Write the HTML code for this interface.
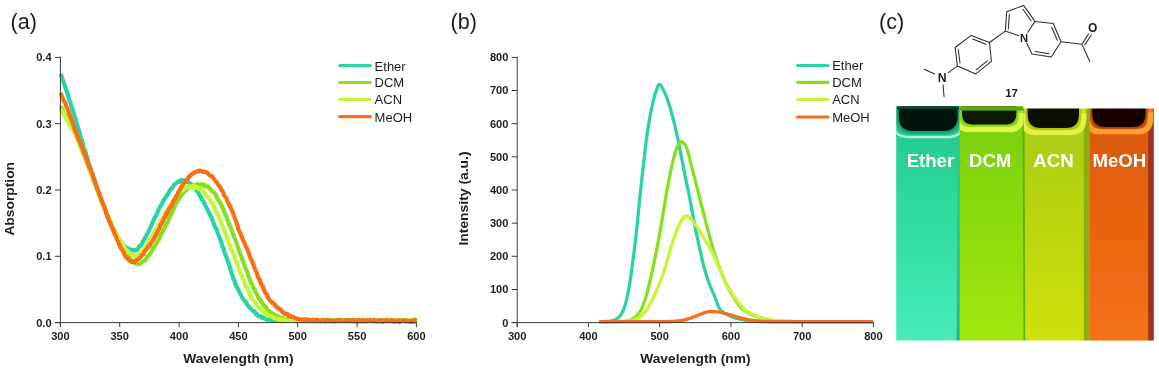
<!DOCTYPE html>
<html lang="en"><head><meta charset="utf-8"><title>Figure</title>
<style>html,body{margin:0;padding:0;background:#fff;overflow:hidden}svg{display:block}</style>
</head><body>
<svg width="1159" height="371" viewBox="0 0 1159 371">
<defs>
<linearGradient id="gE" x1="0" y1="0" x2="0" y2="1"><stop offset="0" stop-color="#22c685"/><stop offset="0.45" stop-color="#2fdb9d"/><stop offset="1" stop-color="#48ecbc"/></linearGradient>
<linearGradient id="gD" x1="0" y1="0" x2="0" y2="1"><stop offset="0" stop-color="#79cf12"/><stop offset="0.5" stop-color="#8cdb0e"/><stop offset="1" stop-color="#a2e80a"/></linearGradient>
<linearGradient id="gA" x1="0" y1="0" x2="0" y2="1"><stop offset="0" stop-color="#a6cb14"/><stop offset="0.5" stop-color="#bad50f"/><stop offset="1" stop-color="#d0e20a"/></linearGradient>
<linearGradient id="gM" x1="0" y1="0" x2="0" y2="1"><stop offset="0" stop-color="#d8560c"/><stop offset="0.5" stop-color="#e9640f"/><stop offset="1" stop-color="#f47216"/></linearGradient>
<linearGradient id="gW" gradientUnits="userSpaceOnUse" x1="0" y1="140" x2="0" y2="345"><stop offset="0" stop-color="#1fae86" stop-opacity="0.15"/><stop offset="0.6" stop-color="#1fae86" stop-opacity="0.6"/><stop offset="1" stop-color="#1fae86" stop-opacity="0.9"/></linearGradient>
<filter id="b0" x="-2%" y="-2%" width="104%" height="104%"><feGaussianBlur stdDeviation="0.35"/></filter>
<filter id="b1" x="-10%" y="-10%" width="120%" height="120%"><feGaussianBlur stdDeviation="1.1"/></filter>
<filter id="b3" x="-10%" y="-10%" width="120%" height="120%"><feGaussianBlur stdDeviation="0.75"/></filter>
<filter id="b2" x="-10%" y="-10%" width="120%" height="120%"><feGaussianBlur stdDeviation="0.6"/></filter>
<clipPath id="photo"><rect x="896.2" y="106.6" width="257.6" height="233.8"/></clipPath>
</defs>
<rect width="1159" height="371" fill="#ffffff"/>
<g filter="url(#b0)">
<path d="M60.4,73.8 L61.4,75.7 L62.4,78.8 L63.4,81.9 L64.4,84.4 L65.4,87.7 L66.4,90.7 L67.4,92.9 L68.4,97.2 L69.4,100.0 L70.4,102.6 L71.4,105.9 L72.4,109.3 L73.4,112.2 L74.4,115.5 L75.4,118.3 L76.4,122.6 L77.4,125.8 L78.4,129.2 L79.4,131.8 L80.4,136.6 L81.4,139.2 L82.4,142.3 L83.4,146.8 L84.4,149.2 L85.4,151.8 L86.4,155.6 L87.4,157.9 L88.4,162.6 L89.4,165.0 L90.4,167.9 L91.4,171.7 L92.4,173.5 L93.4,177.4 L94.4,179.1 L95.4,182.6 L96.4,185.2 L97.4,189.2 L98.4,192.1 L99.4,194.0 L100.4,197.3 L101.4,199.7 L102.4,202.9 L103.4,205.1 L104.4,207.4 L105.4,210.1 L106.4,213.7 L107.4,217.1 L108.4,218.7 L109.4,220.7 L110.4,224.1 L111.4,225.7 L112.4,227.9 L113.4,230.1 L114.4,232.0 L115.4,233.9 L116.4,235.3 L117.4,237.8 L118.4,239.0 L119.4,241.1 L120.4,241.8 L121.4,242.4 L122.4,244.5 L123.4,246.4 L124.4,246.5 L125.4,247.0 L126.4,247.5 L127.4,248.1 L128.4,248.9 L129.4,248.9 L130.4,250.4 L131.4,249.7 L132.4,249.9 L133.4,250.6 L134.4,250.7 L135.4,249.9 L136.4,250.0 L137.4,249.6 L138.4,248.1 L139.4,246.1 L140.4,245.9 L141.4,244.7 L142.4,243.0 L143.4,240.7 L144.4,239.2 L145.4,237.1 L146.4,235.2 L147.4,233.9 L148.4,231.9 L149.4,229.5 L150.4,227.4 L151.4,225.4 L152.4,222.9 L153.4,220.7 L154.4,218.2 L155.4,216.3 L156.4,215.2 L157.4,212.6 L158.4,210.1 L159.4,208.1 L160.4,206.0 L161.4,204.8 L162.4,203.0 L163.4,200.4 L164.4,199.5 L165.4,197.4 L166.4,196.6 L167.4,194.4 L168.4,193.5 L169.4,191.0 L170.4,189.7 L171.4,188.6 L172.4,187.7 L173.4,186.2 L174.4,184.2 L175.4,183.9 L176.4,182.9 L177.4,182.1 L178.4,181.3 L179.4,181.9 L180.4,180.4 L181.4,179.9 L182.4,180.5 L183.4,180.4 L184.4,180.5 L185.4,181.2 L186.4,181.5 L187.4,181.9 L188.4,182.6 L189.4,183.0 L190.4,183.4 L191.4,184.5 L192.4,185.5 L193.4,186.9 L194.4,187.5 L195.4,188.4 L196.4,190.6 L197.4,191.4 L198.4,192.6 L199.4,195.2 L200.4,196.3 L201.4,198.6 L202.4,199.9 L203.4,201.4 L204.4,203.3 L205.4,205.6 L206.4,207.7 L207.4,209.4 L208.4,211.7 L209.4,213.2 L210.4,215.9 L211.4,217.2 L212.4,220.0 L213.4,222.6 L214.4,225.1 L215.4,227.7 L216.4,228.6 L217.4,232.1 L218.4,234.9 L219.4,237.5 L220.4,239.4 L221.4,242.9 L222.4,246.4 L223.4,247.8 L224.4,251.6 L225.4,254.8 L226.4,256.8 L227.4,260.4 L228.4,262.7 L229.4,265.9 L230.4,269.1 L231.4,272.6 L232.4,275.5 L233.4,278.8 L234.4,280.6 L235.4,283.5 L236.4,286.2 L237.4,288.2 L238.4,289.5 L239.4,292.4 L240.4,293.8 L241.4,296.0 L242.4,297.6 L243.4,299.6 L244.4,300.6 L245.4,301.2 L246.4,302.8 L247.4,305.0 L248.4,305.8 L249.4,307.6 L250.4,308.4 L251.4,309.0 L252.4,310.8 L253.4,310.9 L254.4,311.3 L255.4,314.1 L256.4,313.1 L257.4,315.1 L258.4,315.9 L259.4,316.2 L260.4,316.0 L261.4,317.7 L262.4,317.1 L263.4,317.6 L264.4,318.5 L265.4,319.3 L266.4,319.4 L267.4,319.9 L268.4,319.4 L269.4,319.7 L270.4,319.3 L271.4,319.8 L272.4,320.3 L273.4,320.0 L274.4,320.4 L275.4,320.0 L276.4,320.0 L277.4,320.3 L278.4,320.3 L279.4,320.7 L280.4,320.5 L281.4,321.2 L282.4,320.3 L283.4,320.4 L284.4,320.0 L285.4,320.5 L286.4,320.8 L287.4,320.2 L288.4,320.5 L289.4,320.9 L290.4,320.5 L291.4,320.3 L292.4,321.0 L293.4,320.6 L294.4,320.8 L295.4,321.1 L296.4,321.1 L297.4,320.4 L298.4,320.4 L299.4,320.7 L300.4,320.5 L301.4,319.7 L302.4,321.2 L303.4,320.6 L304.4,320.9 L305.4,320.1 L306.4,321.2 L307.4,320.4 L308.4,320.6 L309.4,320.0 L310.4,320.6 L311.4,320.5 L312.4,320.6 L313.4,320.8 L314.4,320.7 L315.4,321.1 L316.4,320.4 L317.4,320.2 L318.4,320.7 L319.4,320.9 L320.4,321.2 L321.4,321.0 L322.4,319.9 L323.4,320.8 L324.4,321.3 L325.4,320.7 L326.4,320.4 L327.4,320.8 L328.4,320.5 L329.4,321.0 L330.4,320.7 L331.4,321.3 L332.4,320.9 L333.4,320.4 L334.4,321.0 L335.4,321.1 L336.4,320.5 L337.4,320.5 L338.4,319.7 L339.4,321.1 L340.4,320.5 L341.4,319.8 L342.4,319.9 L343.4,320.6 L344.4,321.1 L345.4,320.7 L346.4,320.9 L347.4,320.2 L348.4,320.1 L349.4,321.1 L350.4,321.0 L351.4,320.7 L352.4,321.3 L353.4,320.3 L354.4,320.6 L355.4,321.2 L356.4,321.6 L357.4,320.8 L358.4,321.5 L359.4,320.5 L360.4,320.9 L361.4,320.7 L362.4,320.0 L363.4,320.9 L364.4,321.2 L365.4,320.7 L366.4,320.7 L367.4,321.4 L368.4,320.2 L369.4,320.1 L370.4,320.5 L371.4,320.2 L372.4,321.4 L373.4,320.9 L374.4,320.4 L375.4,320.5 L376.4,322.1 L377.4,320.5 L378.4,320.4 L379.4,320.9 L380.4,321.1 L381.4,320.9 L382.4,320.4 L383.4,320.3 L384.4,321.1 L385.4,320.8 L386.4,320.0 L387.4,321.3 L388.4,321.1 L389.4,320.7 L390.4,320.7 L391.4,320.9 L392.4,320.5 L393.4,320.2 L394.4,320.9 L395.4,320.1 L396.4,321.0 L397.4,320.1 L398.4,320.8 L399.4,320.7 L400.4,321.6 L401.4,320.3 L402.4,320.2 L403.4,320.5 L404.4,320.3 L405.4,320.5 L406.4,321.0 L407.4,321.1 L408.4,321.5 L409.4,320.5 L410.4,322.0 L411.4,321.7 L412.4,320.7 L413.4,319.8 L414.4,320.8 L415.4,320.8 L416.4,319.8" fill="none" stroke="#2bd3a5" stroke-width="4.20" stroke-linejoin="round" stroke-linecap="butt"/>
<path d="M60.4,106.0 L61.4,107.7 L62.4,109.2 L63.4,111.7 L64.4,113.7 L65.4,114.8 L66.4,117.0 L67.4,118.4 L68.4,120.2 L69.4,122.4 L70.4,124.4 L71.4,125.7 L72.4,126.8 L73.4,130.0 L74.4,131.0 L75.4,133.9 L76.4,136.9 L77.4,138.5 L78.4,140.4 L79.4,142.8 L80.4,146.5 L81.4,148.6 L82.4,151.5 L83.4,154.3 L84.4,156.4 L85.4,158.9 L86.4,161.2 L87.4,162.8 L88.4,166.1 L89.4,169.3 L90.4,171.9 L91.4,174.8 L92.4,177.2 L93.4,179.9 L94.4,182.8 L95.4,184.6 L96.4,187.5 L97.4,189.6 L98.4,193.4 L99.4,195.6 L100.4,198.5 L101.4,201.6 L102.4,204.0 L103.4,206.0 L104.4,208.9 L105.4,210.3 L106.4,213.6 L107.4,215.9 L108.4,217.5 L109.4,221.2 L110.4,222.6 L111.4,225.5 L112.4,227.3 L113.4,230.1 L114.4,232.3 L115.4,233.4 L116.4,235.2 L117.4,237.8 L118.4,240.2 L119.4,241.6 L120.4,243.3 L121.4,245.7 L122.4,246.0 L123.4,248.6 L124.4,249.9 L125.4,252.3 L126.4,253.4 L127.4,254.8 L128.4,256.7 L129.4,257.6 L130.4,259.5 L131.4,260.2 L132.4,261.1 L133.4,261.6 L134.4,263.0 L135.4,263.1 L136.4,263.8 L137.4,264.1 L138.4,263.6 L139.4,264.1 L140.4,263.5 L141.4,262.8 L142.4,261.7 L143.4,260.8 L144.4,260.5 L145.4,260.2 L146.4,257.8 L147.4,257.2 L148.4,255.6 L149.4,254.8 L150.4,253.2 L151.4,252.0 L152.4,248.8 L153.4,248.2 L154.4,246.5 L155.4,245.3 L156.4,243.4 L157.4,241.6 L158.4,240.3 L159.4,239.0 L160.4,234.9 L161.4,234.0 L162.4,232.3 L163.4,230.2 L164.4,228.1 L165.4,225.7 L166.4,223.9 L167.4,222.6 L168.4,220.8 L169.4,218.3 L170.4,215.8 L171.4,214.1 L172.4,211.7 L173.4,209.8 L174.4,207.3 L175.4,204.7 L176.4,203.0 L177.4,200.5 L178.4,199.7 L179.4,198.4 L180.4,195.9 L181.4,195.2 L182.4,193.3 L183.4,193.1 L184.4,191.9 L185.4,190.4 L186.4,190.1 L187.4,188.6 L188.4,187.7 L189.4,187.0 L190.4,186.6 L191.4,185.9 L192.4,185.7 L193.4,185.1 L194.4,185.5 L195.4,185.4 L196.4,184.6 L197.4,184.0 L198.4,184.9 L199.4,185.0 L200.4,184.4 L201.4,184.0 L202.4,184.9 L203.4,185.8 L204.4,184.6 L205.4,186.0 L206.4,186.0 L207.4,186.3 L208.4,187.6 L209.4,187.7 L210.4,189.4 L211.4,190.8 L212.4,191.4 L213.4,192.1 L214.4,192.9 L215.4,194.6 L216.4,195.9 L217.4,199.1 L218.4,200.0 L219.4,201.4 L220.4,203.2 L221.4,205.2 L222.4,207.6 L223.4,209.4 L224.4,213.0 L225.4,214.2 L226.4,216.6 L227.4,219.5 L228.4,222.5 L229.4,225.0 L230.4,226.7 L231.4,229.6 L232.4,232.1 L233.4,235.0 L234.4,237.6 L235.4,239.9 L236.4,242.5 L237.4,246.0 L238.4,248.3 L239.4,252.2 L240.4,254.4 L241.4,256.6 L242.4,259.6 L243.4,262.3 L244.4,265.2 L245.4,268.4 L246.4,270.0 L247.4,272.4 L248.4,276.0 L249.4,278.3 L250.4,280.9 L251.4,283.3 L252.4,285.2 L253.4,287.9 L254.4,289.3 L255.4,291.8 L256.4,293.4 L257.4,295.1 L258.4,297.7 L259.4,299.3 L260.4,299.7 L261.4,301.5 L262.4,303.5 L263.4,305.1 L264.4,305.6 L265.4,307.0 L266.4,307.5 L267.4,310.3 L268.4,310.3 L269.4,311.4 L270.4,312.1 L271.4,313.0 L272.4,313.6 L273.4,313.8 L274.4,315.0 L275.4,315.2 L276.4,316.3 L277.4,315.9 L278.4,316.4 L279.4,317.4 L280.4,318.1 L281.4,317.9 L282.4,317.9 L283.4,318.5 L284.4,318.6 L285.4,320.0 L286.4,319.8 L287.4,320.1 L288.4,319.8 L289.4,319.5 L290.4,320.4 L291.4,320.7 L292.4,320.3 L293.4,320.1 L294.4,320.7 L295.4,320.1 L296.4,320.6 L297.4,320.0 L298.4,319.9 L299.4,320.6 L300.4,320.6 L301.4,321.3 L302.4,320.3 L303.4,320.5 L304.4,320.0 L305.4,319.6 L306.4,319.7 L307.4,320.7 L308.4,320.0 L309.4,321.0 L310.4,321.2 L311.4,320.4 L312.4,321.3 L313.4,320.7 L314.4,321.1 L315.4,320.5 L316.4,321.0 L317.4,320.2 L318.4,320.9 L319.4,320.4 L320.4,320.5 L321.4,320.9 L322.4,320.7 L323.4,320.6 L324.4,320.9 L325.4,321.0 L326.4,320.0 L327.4,320.9 L328.4,320.9 L329.4,320.3 L330.4,320.8 L331.4,320.0 L332.4,321.3 L333.4,320.5 L334.4,320.6 L335.4,321.2 L336.4,320.6 L337.4,320.9 L338.4,320.2 L339.4,320.4 L340.4,320.0 L341.4,320.6 L342.4,321.1 L343.4,320.8 L344.4,321.1 L345.4,320.2 L346.4,320.3 L347.4,320.5 L348.4,321.0 L349.4,320.9 L350.4,320.7 L351.4,321.0 L352.4,320.6 L353.4,320.7 L354.4,321.3 L355.4,320.5 L356.4,320.8 L357.4,321.4 L358.4,320.8 L359.4,321.0 L360.4,320.5 L361.4,321.6 L362.4,319.7 L363.4,320.2 L364.4,320.3 L365.4,321.5 L366.4,320.9 L367.4,320.6 L368.4,320.2 L369.4,320.9 L370.4,320.8 L371.4,320.4 L372.4,320.1 L373.4,320.3 L374.4,320.9 L375.4,320.9 L376.4,320.8 L377.4,320.7 L378.4,320.0 L379.4,320.8 L380.4,320.3 L381.4,320.8 L382.4,321.0 L383.4,320.5 L384.4,320.3 L385.4,321.2 L386.4,320.9 L387.4,320.5 L388.4,319.4 L389.4,320.8 L390.4,321.1 L391.4,321.3 L392.4,320.5 L393.4,320.5 L394.4,320.6 L395.4,321.2 L396.4,320.3 L397.4,320.7 L398.4,320.4 L399.4,320.9 L400.4,320.1 L401.4,321.0 L402.4,320.6 L403.4,320.7 L404.4,321.0 L405.4,321.3 L406.4,320.0 L407.4,321.2 L408.4,321.0 L409.4,320.7 L410.4,321.4 L411.4,320.9 L412.4,321.4 L413.4,320.5 L414.4,320.4 L415.4,321.4 L416.4,321.8" fill="none" stroke="#86e11f" stroke-width="4.20" stroke-linejoin="round" stroke-linecap="butt"/>
<path d="M60.4,108.3 L61.4,110.2 L62.4,111.5 L63.4,112.9 L64.4,115.2 L65.4,117.8 L66.4,118.1 L67.4,120.5 L68.4,121.6 L69.4,124.2 L70.4,126.2 L71.4,126.9 L72.4,129.0 L73.4,131.5 L74.4,132.8 L75.4,134.3 L76.4,136.4 L77.4,138.3 L78.4,141.9 L79.4,143.6 L80.4,146.9 L81.4,149.3 L82.4,151.1 L83.4,153.7 L84.4,156.8 L85.4,159.1 L86.4,161.7 L87.4,163.4 L88.4,167.1 L89.4,169.0 L90.4,171.0 L91.4,174.4 L92.4,177.5 L93.4,180.8 L94.4,182.3 L95.4,184.4 L96.4,188.5 L97.4,190.2 L98.4,192.6 L99.4,194.8 L100.4,197.3 L101.4,200.9 L102.4,202.6 L103.4,204.9 L104.4,207.4 L105.4,210.6 L106.4,212.0 L107.4,214.9 L108.4,217.0 L109.4,219.3 L110.4,221.0 L111.4,223.9 L112.4,226.5 L113.4,227.8 L114.4,229.4 L115.4,231.2 L116.4,233.8 L117.4,235.4 L118.4,237.3 L119.4,239.2 L120.4,240.2 L121.4,242.9 L122.4,244.2 L123.4,245.6 L124.4,247.2 L125.4,248.9 L126.4,250.0 L127.4,250.9 L128.4,253.0 L129.4,253.2 L130.4,253.7 L131.4,253.8 L132.4,255.0 L133.4,254.9 L134.4,255.5 L135.4,256.1 L136.4,256.0 L137.4,256.2 L138.4,255.2 L139.4,254.0 L140.4,253.0 L141.4,251.9 L142.4,251.3 L143.4,249.9 L144.4,248.4 L145.4,247.5 L146.4,245.7 L147.4,243.9 L148.4,241.8 L149.4,241.1 L150.4,239.5 L151.4,237.7 L152.4,235.8 L153.4,233.9 L154.4,232.4 L155.4,230.8 L156.4,228.8 L157.4,227.0 L158.4,225.1 L159.4,223.7 L160.4,221.9 L161.4,219.6 L162.4,218.5 L163.4,216.8 L164.4,215.1 L165.4,212.9 L166.4,211.3 L167.4,209.2 L168.4,208.4 L169.4,205.4 L170.4,204.6 L171.4,203.1 L172.4,202.1 L173.4,200.3 L174.4,198.5 L175.4,197.0 L176.4,195.9 L177.4,195.0 L178.4,193.7 L179.4,192.4 L180.4,191.1 L181.4,190.4 L182.4,190.1 L183.4,188.4 L184.4,188.2 L185.4,188.3 L186.4,187.4 L187.4,186.7 L188.4,187.0 L189.4,186.2 L190.4,186.5 L191.4,187.1 L192.4,187.3 L193.4,185.8 L194.4,187.1 L195.4,187.9 L196.4,187.1 L197.4,187.8 L198.4,188.8 L199.4,188.5 L200.4,189.6 L201.4,190.1 L202.4,190.1 L203.4,192.0 L204.4,192.7 L205.4,194.3 L206.4,196.0 L207.4,196.7 L208.4,197.5 L209.4,199.3 L210.4,200.7 L211.4,202.7 L212.4,203.3 L213.4,205.2 L214.4,206.8 L215.4,210.0 L216.4,211.7 L217.4,213.6 L218.4,215.8 L219.4,218.2 L220.4,220.5 L221.4,223.3 L222.4,225.7 L223.4,229.1 L224.4,231.2 L225.4,233.2 L226.4,235.9 L227.4,239.3 L228.4,241.5 L229.4,244.1 L230.4,246.9 L231.4,249.9 L232.4,251.3 L233.4,254.1 L234.4,256.2 L235.4,259.9 L236.4,262.1 L237.4,264.6 L238.4,267.2 L239.4,270.5 L240.4,272.8 L241.4,275.1 L242.4,278.4 L243.4,279.8 L244.4,282.1 L245.4,286.1 L246.4,287.0 L247.4,289.1 L248.4,291.2 L249.4,293.5 L250.4,295.9 L251.4,297.7 L252.4,299.3 L253.4,300.5 L254.4,301.3 L255.4,303.4 L256.4,305.2 L257.4,306.2 L258.4,306.8 L259.4,308.3 L260.4,308.7 L261.4,309.8 L262.4,310.2 L263.4,311.4 L264.4,312.4 L265.4,313.0 L266.4,314.2 L267.4,315.3 L268.4,315.7 L269.4,315.6 L270.4,315.9 L271.4,316.4 L272.4,316.7 L273.4,317.6 L274.4,318.2 L275.4,318.5 L276.4,318.8 L277.4,319.1 L278.4,319.3 L279.4,319.2 L280.4,320.4 L281.4,320.2 L282.4,319.4 L283.4,319.5 L284.4,319.8 L285.4,320.1 L286.4,320.7 L287.4,320.7 L288.4,320.8 L289.4,320.8 L290.4,320.9 L291.4,320.7 L292.4,320.6 L293.4,320.4 L294.4,319.7 L295.4,320.4 L296.4,321.3 L297.4,320.2 L298.4,320.2 L299.4,321.0 L300.4,320.6 L301.4,320.3 L302.4,321.3 L303.4,320.8 L304.4,320.9 L305.4,320.3 L306.4,320.8 L307.4,320.8 L308.4,320.9 L309.4,321.1 L310.4,321.1 L311.4,320.7 L312.4,320.9 L313.4,320.1 L314.4,320.9 L315.4,320.9 L316.4,320.4 L317.4,320.3 L318.4,320.6 L319.4,320.1 L320.4,320.8 L321.4,320.8 L322.4,320.2 L323.4,320.7 L324.4,321.1 L325.4,321.1 L326.4,321.1 L327.4,320.6 L328.4,320.5 L329.4,320.5 L330.4,320.9 L331.4,321.7 L332.4,321.3 L333.4,321.4 L334.4,321.3 L335.4,320.0 L336.4,320.6 L337.4,320.5 L338.4,321.3 L339.4,321.5 L340.4,320.4 L341.4,320.7 L342.4,321.0 L343.4,320.5 L344.4,320.4 L345.4,320.4 L346.4,321.1 L347.4,320.3 L348.4,321.2 L349.4,320.8 L350.4,321.1 L351.4,321.4 L352.4,320.4 L353.4,320.4 L354.4,320.9 L355.4,320.3 L356.4,320.4 L357.4,320.7 L358.4,320.8 L359.4,320.2 L360.4,320.6 L361.4,321.0 L362.4,321.4 L363.4,319.9 L364.4,321.3 L365.4,321.2 L366.4,320.3 L367.4,320.1 L368.4,320.9 L369.4,320.6 L370.4,320.8 L371.4,321.2 L372.4,320.6 L373.4,320.8 L374.4,321.0 L375.4,321.2 L376.4,321.6 L377.4,321.5 L378.4,320.9 L379.4,320.7 L380.4,321.8 L381.4,321.1 L382.4,321.0 L383.4,320.3 L384.4,321.1 L385.4,320.4 L386.4,320.6 L387.4,320.2 L388.4,320.6 L389.4,320.8 L390.4,320.1 L391.4,320.4 L392.4,320.8 L393.4,320.2 L394.4,320.2 L395.4,320.4 L396.4,320.2 L397.4,321.1 L398.4,320.3 L399.4,321.1 L400.4,321.2 L401.4,320.3 L402.4,320.8 L403.4,320.6 L404.4,320.3 L405.4,320.6 L406.4,320.7 L407.4,321.1 L408.4,321.3 L409.4,320.3 L410.4,320.6 L411.4,321.0 L412.4,321.3 L413.4,319.7 L414.4,321.4 L415.4,320.7 L416.4,321.5" fill="none" stroke="#c6f53a" stroke-width="4.20" stroke-linejoin="round" stroke-linecap="butt"/>
<path d="M60.4,92.8 L61.4,94.7 L62.4,97.3 L63.4,100.0 L64.4,101.8 L65.4,103.1 L66.4,106.8 L67.4,108.3 L68.4,111.2 L69.4,113.8 L70.4,116.4 L71.4,119.5 L72.4,122.5 L73.4,125.4 L74.4,128.4 L75.4,130.9 L76.4,132.8 L77.4,135.8 L78.4,138.7 L79.4,141.1 L80.4,143.1 L81.4,145.8 L82.4,148.4 L83.4,151.2 L84.4,154.0 L85.4,155.8 L86.4,158.5 L87.4,162.1 L88.4,164.9 L89.4,167.6 L90.4,168.6 L91.4,172.3 L92.4,173.6 L93.4,178.1 L94.4,180.5 L95.4,183.2 L96.4,185.9 L97.4,189.2 L98.4,191.2 L99.4,194.5 L100.4,197.0 L101.4,199.6 L102.4,202.3 L103.4,204.8 L104.4,207.0 L105.4,210.5 L106.4,213.3 L107.4,215.6 L108.4,218.7 L109.4,221.4 L110.4,223.0 L111.4,226.0 L112.4,228.4 L113.4,230.5 L114.4,233.4 L115.4,235.3 L116.4,237.7 L117.4,240.3 L118.4,242.5 L119.4,244.6 L120.4,247.5 L121.4,248.2 L122.4,250.3 L123.4,251.6 L124.4,254.2 L125.4,256.2 L126.4,257.7 L127.4,258.1 L128.4,259.2 L129.4,260.7 L130.4,260.8 L131.4,261.8 L132.4,261.3 L133.4,262.4 L134.4,262.0 L135.4,261.2 L136.4,260.0 L137.4,259.6 L138.4,259.1 L139.4,258.2 L140.4,257.0 L141.4,255.8 L142.4,254.8 L143.4,254.2 L144.4,251.4 L145.4,250.5 L146.4,249.1 L147.4,248.1 L148.4,246.3 L149.4,245.9 L150.4,244.2 L151.4,242.5 L152.4,240.8 L153.4,239.4 L154.4,237.7 L155.4,235.9 L156.4,233.6 L157.4,232.3 L158.4,229.4 L159.4,228.7 L160.4,224.8 L161.4,224.0 L162.4,221.7 L163.4,220.5 L164.4,217.4 L165.4,216.9 L166.4,213.4 L167.4,213.1 L168.4,210.6 L169.4,208.7 L170.4,207.1 L171.4,206.3 L172.4,204.0 L173.4,200.9 L174.4,200.7 L175.4,198.4 L176.4,195.7 L177.4,194.8 L178.4,191.9 L179.4,190.6 L180.4,188.8 L181.4,186.6 L182.4,185.7 L183.4,183.5 L184.4,182.6 L185.4,181.0 L186.4,179.8 L187.4,179.6 L188.4,177.7 L189.4,176.1 L190.4,175.6 L191.4,174.4 L192.4,173.9 L193.4,173.2 L194.4,172.5 L195.4,172.1 L196.4,171.4 L197.4,171.5 L198.4,171.5 L199.4,170.5 L200.4,170.8 L201.4,171.0 L202.4,171.7 L203.4,171.9 L204.4,171.5 L205.4,172.2 L206.4,172.0 L207.4,172.8 L208.4,173.9 L209.4,175.0 L210.4,175.9 L211.4,176.2 L212.4,176.7 L213.4,178.5 L214.4,179.3 L215.4,180.8 L216.4,181.9 L217.4,183.5 L218.4,184.9 L219.4,186.4 L220.4,187.5 L221.4,189.8 L222.4,190.9 L223.4,193.1 L224.4,195.8 L225.4,197.0 L226.4,198.3 L227.4,201.4 L228.4,203.2 L229.4,205.3 L230.4,207.1 L231.4,209.4 L232.4,211.4 L233.4,213.7 L234.4,217.4 L235.4,219.4 L236.4,222.4 L237.4,225.3 L238.4,229.2 L239.4,231.4 L240.4,233.4 L241.4,236.0 L242.4,238.6 L243.4,241.1 L244.4,242.3 L245.4,245.7 L246.4,247.5 L247.4,249.6 L248.4,252.0 L249.4,254.9 L250.4,257.8 L251.4,259.6 L252.4,262.3 L253.4,264.3 L254.4,267.5 L255.4,270.3 L256.4,271.9 L257.4,274.9 L258.4,278.0 L259.4,279.2 L260.4,282.1 L261.4,284.7 L262.4,285.7 L263.4,288.4 L264.4,290.6 L265.4,292.9 L266.4,293.8 L267.4,296.6 L268.4,297.9 L269.4,299.7 L270.4,301.0 L271.4,301.9 L272.4,303.1 L273.4,303.2 L274.4,304.4 L275.4,305.5 L276.4,306.7 L277.4,308.2 L278.4,307.8 L279.4,309.3 L280.4,309.6 L281.4,310.2 L282.4,312.3 L283.4,312.3 L284.4,313.7 L285.4,314.1 L286.4,313.8 L287.4,313.9 L288.4,316.2 L289.4,315.6 L290.4,315.7 L291.4,317.0 L292.4,317.1 L293.4,317.1 L294.4,317.6 L295.4,318.2 L296.4,318.5 L297.4,319.1 L298.4,318.9 L299.4,319.1 L300.4,319.7 L301.4,319.7 L302.4,320.2 L303.4,319.7 L304.4,319.8 L305.4,319.4 L306.4,320.7 L307.4,319.5 L308.4,320.2 L309.4,319.8 L310.4,320.4 L311.4,320.6 L312.4,319.6 L313.4,320.3 L314.4,319.6 L315.4,321.0 L316.4,320.2 L317.4,319.7 L318.4,320.1 L319.4,321.1 L320.4,321.2 L321.4,321.1 L322.4,320.2 L323.4,320.4 L324.4,321.3 L325.4,320.2 L326.4,320.4 L327.4,320.1 L328.4,320.0 L329.4,321.1 L330.4,320.9 L331.4,320.8 L332.4,320.8 L333.4,321.1 L334.4,321.3 L335.4,320.6 L336.4,320.5 L337.4,320.1 L338.4,321.1 L339.4,320.4 L340.4,320.0 L341.4,320.5 L342.4,320.6 L343.4,321.0 L344.4,321.1 L345.4,320.3 L346.4,320.3 L347.4,320.5 L348.4,320.1 L349.4,320.6 L350.4,320.9 L351.4,320.7 L352.4,319.9 L353.4,320.1 L354.4,321.3 L355.4,320.2 L356.4,321.0 L357.4,321.0 L358.4,320.5 L359.4,320.2 L360.4,320.8 L361.4,320.3 L362.4,320.6 L363.4,320.8 L364.4,320.4 L365.4,320.6 L366.4,320.6 L367.4,320.2 L368.4,320.6 L369.4,320.4 L370.4,319.9 L371.4,320.6 L372.4,320.6 L373.4,320.5 L374.4,319.8 L375.4,321.1 L376.4,321.1 L377.4,321.0 L378.4,320.9 L379.4,320.2 L380.4,320.8 L381.4,320.3 L382.4,321.7 L383.4,320.5 L384.4,321.1 L385.4,320.1 L386.4,320.2 L387.4,320.5 L388.4,321.1 L389.4,321.0 L390.4,320.9 L391.4,319.9 L392.4,321.3 L393.4,320.4 L394.4,321.5 L395.4,321.6 L396.4,321.2 L397.4,321.2 L398.4,320.2 L399.4,322.0 L400.4,320.9 L401.4,321.2 L402.4,320.4 L403.4,320.8 L404.4,320.3 L405.4,320.7 L406.4,320.8 L407.4,320.9 L408.4,321.4 L409.4,321.0 L410.4,320.9 L411.4,320.8 L412.4,321.7 L413.4,320.5 L414.4,321.3 L415.4,319.9 L416.4,320.4" fill="none" stroke="#fb6d14" stroke-width="4.20" stroke-linejoin="round" stroke-linecap="butt"/>
<path d="M599.0,321.7 L599.5,321.7 L600.0,321.7 L600.5,321.7 L601.0,321.7 L601.5,321.7 L602.0,321.7 L602.5,321.6 L603.0,321.6 L603.5,321.6 L604.0,321.6 L604.5,321.6 L605.0,321.6 L605.5,321.5 L606.0,321.5 L606.5,321.5 L607.0,321.5 L607.5,321.4 L608.0,321.4 L608.5,321.4 L609.0,321.3 L609.5,321.3 L610.0,321.2 L610.5,321.1 L611.0,321.0 L611.5,320.9 L612.0,320.8 L612.5,320.7 L613.0,320.6 L613.5,320.4 L614.0,320.3 L614.5,320.1 L615.0,319.9 L615.5,319.7 L616.0,319.4 L616.5,319.1 L617.0,318.7 L617.5,318.3 L618.0,317.9 L618.5,317.5 L619.0,317.0 L619.5,316.5 L620.0,315.9 L620.5,315.2 L621.0,314.5 L621.5,313.7 L622.0,312.8 L622.5,311.9 L623.0,310.9 L623.5,309.8 L624.0,308.5 L624.5,307.1 L625.0,305.5 L625.5,303.7 L626.0,301.9 L626.5,300.0 L627.0,297.9 L627.5,295.6 L628.0,293.1 L628.5,290.4 L629.0,287.5 L629.5,284.6 L630.0,281.5 L630.5,278.3 L631.0,274.8 L631.5,271.3 L632.0,267.6 L632.5,263.8 L633.0,260.0 L633.5,256.2 L634.0,252.2 L634.5,248.2 L635.0,244.1 L635.5,239.9 L636.0,235.6 L636.5,231.1 L637.0,226.4 L637.5,221.4 L638.0,216.3 L638.5,211.1 L639.0,205.9 L639.5,200.9 L640.0,196.0 L640.5,191.3 L641.0,186.7 L641.5,182.1 L642.0,177.6 L642.5,173.1 L643.0,168.7 L643.5,164.3 L644.0,160.0 L644.5,155.6 L645.0,151.2 L645.5,146.8 L646.0,142.6 L646.5,138.6 L647.0,135.0 L647.5,131.6 L648.0,128.3 L648.5,125.2 L649.0,122.2 L649.5,119.2 L650.0,116.5 L650.5,113.8 L651.0,111.2 L651.5,108.8 L652.0,106.5 L652.5,104.2 L653.0,102.0 L653.5,99.9 L654.0,97.9 L654.5,96.0 L655.0,94.2 L655.5,92.6 L656.0,91.2 L656.5,89.9 L657.0,88.5 L657.5,87.2 L658.0,86.0 L658.5,85.1 L659.0,84.6 L659.5,84.4 L660.0,84.6 L660.5,85.0 L661.0,85.6 L661.5,86.4 L662.0,87.3 L662.5,88.2 L663.0,89.2 L663.5,90.2 L664.0,91.2 L664.5,92.2 L665.0,93.3 L665.5,94.4 L666.0,95.7 L666.5,97.0 L667.0,98.3 L667.5,99.7 L668.0,101.2 L668.5,102.7 L669.0,104.2 L669.5,105.8 L670.0,107.4 L670.5,109.0 L671.0,110.7 L671.5,112.5 L672.0,114.3 L672.5,116.2 L673.0,118.1 L673.5,120.1 L674.0,122.1 L674.5,124.2 L675.0,126.3 L675.5,128.4 L676.0,130.6 L676.5,132.8 L677.0,135.0 L677.5,137.3 L678.0,139.6 L678.5,142.1 L679.0,144.6 L679.5,147.1 L680.0,149.7 L680.5,152.3 L681.0,154.9 L681.5,157.4 L682.0,160.0 L682.5,162.6 L683.0,165.1 L683.5,167.8 L684.0,170.4 L684.5,172.9 L685.0,175.5 L685.5,178.0 L686.0,180.4 L686.5,182.8 L687.0,185.1 L687.5,187.5 L688.0,189.8 L688.5,192.1 L689.0,194.5 L689.5,197.0 L690.0,199.5 L690.5,202.2 L691.0,204.8 L691.5,207.5 L692.0,210.3 L692.5,213.0 L693.0,215.8 L693.5,218.5 L694.0,221.2 L694.5,223.9 L695.0,226.5 L695.5,229.0 L696.0,231.5 L696.5,233.9 L697.0,236.3 L697.5,238.6 L698.0,240.9 L698.5,243.2 L699.0,245.5 L699.5,247.8 L700.0,250.0 L700.5,252.2 L701.0,254.5 L701.5,256.7 L702.0,258.9 L702.5,261.0 L703.0,263.1 L703.5,265.1 L704.0,267.0 L704.5,268.8 L705.0,270.6 L705.5,272.3 L706.0,274.0 L706.5,275.6 L707.0,277.2 L707.5,278.7 L708.0,280.2 L708.5,281.6 L709.0,283.0 L709.5,284.3 L710.0,285.6 L710.5,286.8 L711.0,288.0 L711.5,289.2 L712.0,290.3 L712.5,291.4 L713.0,292.6 L713.5,293.7 L714.0,294.8 L714.5,296.0 L715.0,297.2 L715.5,298.6 L716.0,299.9 L716.5,301.3 L717.0,302.7 L717.5,304.1 L718.0,305.4 L718.5,306.6 L719.0,307.8 L719.5,308.7 L720.0,309.5 L720.5,310.1 L721.0,310.6 L721.5,311.1 L722.0,311.5 L722.5,311.9 L723.0,312.3 L723.5,312.6 L724.0,313.0 L724.5,313.3 L725.0,313.6 L725.5,313.8 L726.0,314.1 L726.5,314.3 L727.0,314.6 L727.5,314.8 L728.0,315.0 L728.5,315.3 L729.0,315.5 L729.5,315.7 L730.0,315.9 L730.5,316.2 L731.0,316.4 L731.5,316.6 L732.0,316.8 L732.5,317.0 L733.0,317.2 L733.5,317.4 L734.0,317.5 L734.5,317.7 L735.0,317.9 L735.5,318.0 L736.0,318.2 L736.5,318.4 L737.0,318.5 L737.5,318.6 L738.0,318.8 L738.5,318.9 L739.0,319.0 L739.5,319.1 L740.0,319.2 L740.5,319.3 L741.0,319.4 L741.5,319.5 L742.0,319.6 L742.5,319.7 L743.0,319.8 L743.5,319.9 L744.0,320.0 L744.5,320.1 L745.0,320.2 L745.5,320.2 L746.0,320.3 L746.5,320.4 L747.0,320.5 L747.5,320.5 L748.0,320.6 L748.5,320.6 L749.0,320.7 L749.5,320.8 L750.0,320.8 L750.5,320.8 L751.0,320.9 L751.5,320.9 L752.0,321.0 L752.5,321.0 L753.0,321.1 L753.5,321.1 L754.0,321.2 L754.5,321.2 L755.0,321.3 L755.5,321.3 L756.0,321.3 L756.5,321.4 L757.0,321.4 L757.5,321.4 L758.0,321.5 L758.5,321.5 L759.0,321.5 L759.5,321.5 L760.0,321.6 L760.5,321.6 L761.0,321.6 L761.5,321.6 L762.0,321.6 L762.5,321.6 L763.0,321.6 L763.5,321.6 L764.0,321.6 L764.5,321.6 L765.0,321.6 L765.5,321.6 L766.0,321.6 L766.5,321.6 L767.0,321.6 L767.5,321.6 L768.0,321.6 L768.5,321.6 L769.0,321.6 L769.5,321.6 L770.0,321.6 L770.5,321.6 L771.0,321.6 L771.5,321.6 L772.0,321.6 L772.5,321.6 L773.0,321.6 L773.5,321.6 L774.0,321.6 L774.5,321.6 L775.0,321.6 L775.5,321.6 L776.0,321.6 L776.5,321.6 L777.0,321.6 L777.5,321.6 L778.0,321.6 L778.5,321.6 L779.0,321.6 L779.5,321.6 L780.0,321.6 L780.5,321.6 L781.0,321.6 L781.5,321.6 L782.0,321.6 L782.5,321.6 L783.0,321.6 L783.5,321.6 L784.0,321.6 L784.5,321.6 L785.0,321.6 L785.5,321.6 L786.0,321.6 L786.5,321.6 L787.0,321.6 L787.5,321.6 L788.0,321.7 L788.5,321.7 L789.0,321.7 L789.5,321.7 L790.0,321.7 L790.5,321.7 L791.0,321.7 L791.5,321.7 L792.0,321.7 L792.5,321.7 L793.0,321.7 L793.5,321.7 L794.0,321.7 L794.5,321.7 L795.0,321.7 L795.5,321.7 L796.0,321.7 L796.5,321.7 L797.0,321.7 L797.5,321.7 L798.0,321.7 L798.5,321.7 L799.0,321.7 L799.5,321.7 L800.0,321.7 L800.5,321.7 L801.0,321.7 L801.5,321.7 L802.0,321.7 L802.5,321.7 L803.0,321.7 L803.5,321.7 L804.0,321.7 L804.5,321.7 L805.0,321.7 L805.5,321.7 L806.0,321.7 L806.5,321.7 L807.0,321.7 L807.5,321.7 L808.0,321.7 L808.5,321.7 L809.0,321.7 L809.5,321.7 L810.0,321.7 L810.5,321.7 L811.0,321.7 L811.5,321.7 L812.0,321.7 L812.5,321.7 L813.0,321.7 L813.5,321.7 L814.0,321.7 L814.5,321.7 L815.0,321.7 L815.5,321.7 L816.0,321.7 L816.5,321.7 L817.0,321.7 L817.5,321.7 L818.0,321.7 L818.5,321.7 L819.0,321.7 L819.5,321.7 L820.0,321.7 L820.5,321.7 L821.0,321.7 L821.5,321.7 L822.0,321.7 L822.5,321.7 L823.0,321.7 L823.5,321.7 L824.0,321.7 L824.5,321.7 L825.0,321.7 L825.5,321.7 L826.0,321.7 L826.5,321.7 L827.0,321.7 L827.5,321.7 L828.0,321.7 L828.5,321.7 L829.0,321.7 L829.5,321.7 L830.0,321.7 L830.5,321.7 L831.0,321.7 L831.5,321.7 L832.0,321.7 L832.5,321.7 L833.0,321.7 L833.5,321.7 L834.0,321.7 L834.5,321.7 L835.0,321.7 L835.5,321.7 L836.0,321.7 L836.5,321.7 L837.0,321.7 L837.5,321.7 L838.0,321.7 L838.5,321.7 L839.0,321.7 L839.5,321.7 L840.0,321.7 L840.5,321.7 L841.0,321.7 L841.5,321.7 L842.0,321.7 L842.5,321.7 L843.0,321.7 L843.5,321.7 L844.0,321.7 L844.5,321.7 L845.0,321.7 L845.5,321.7 L846.0,321.7 L846.5,321.7 L847.0,321.7 L847.5,321.7 L848.0,321.7 L848.5,321.7 L849.0,321.7 L849.5,321.7 L850.0,321.7 L850.5,321.7 L851.0,321.7 L851.5,321.7 L852.0,321.7 L852.5,321.7 L853.0,321.7 L853.5,321.7 L854.0,321.7 L854.5,321.7 L855.0,321.7 L855.5,321.7 L856.0,321.7 L856.5,321.7 L857.0,321.7 L857.5,321.7 L858.0,321.7 L858.5,321.7 L859.0,321.7 L859.5,321.7 L860.0,321.7 L860.5,321.7 L861.0,321.7 L861.5,321.7 L862.0,321.7 L862.5,321.7 L863.0,321.7 L863.5,321.7 L864.0,321.7 L864.5,321.7 L865.0,321.7 L865.5,321.7 L866.0,321.7 L866.5,321.7 L867.0,321.7 L867.5,321.7 L868.0,321.7 L868.5,321.7 L869.0,321.7 L869.5,321.7 L870.0,321.7 L870.5,321.7 L871.0,321.7 L871.5,321.7 L872.0,321.7 L872.5,321.7 L873.0,321.7" fill="none" stroke="#2bd3a5" stroke-width="3.30" stroke-linejoin="round" stroke-linecap="butt"/>
<path d="M599.0,321.7 L599.5,321.7 L600.0,321.7 L600.5,321.7 L601.0,321.7 L601.5,321.7 L602.0,321.7 L602.5,321.7 L603.0,321.7 L603.5,321.7 L604.0,321.7 L604.5,321.7 L605.0,321.7 L605.5,321.7 L606.0,321.7 L606.5,321.7 L607.0,321.7 L607.5,321.7 L608.0,321.7 L608.5,321.7 L609.0,321.7 L609.5,321.7 L610.0,321.7 L610.5,321.6 L611.0,321.6 L611.5,321.6 L612.0,321.6 L612.5,321.6 L613.0,321.6 L613.5,321.6 L614.0,321.6 L614.5,321.6 L615.0,321.6 L615.5,321.6 L616.0,321.6 L616.5,321.6 L617.0,321.6 L617.5,321.6 L618.0,321.5 L618.5,321.5 L619.0,321.5 L619.5,321.5 L620.0,321.5 L620.5,321.5 L621.0,321.4 L621.5,321.4 L622.0,321.4 L622.5,321.3 L623.0,321.3 L623.5,321.3 L624.0,321.2 L624.5,321.2 L625.0,321.2 L625.5,321.1 L626.0,321.1 L626.5,321.0 L627.0,321.0 L627.5,320.9 L628.0,320.8 L628.5,320.7 L629.0,320.6 L629.5,320.4 L630.0,320.2 L630.5,320.0 L631.0,319.7 L631.5,319.5 L632.0,319.2 L632.5,318.9 L633.0,318.6 L633.5,318.3 L634.0,318.0 L634.5,317.7 L635.0,317.3 L635.5,316.9 L636.0,316.4 L636.5,315.9 L637.0,315.4 L637.5,314.8 L638.0,314.2 L638.5,313.6 L639.0,312.9 L639.5,312.2 L640.0,311.5 L640.5,310.7 L641.0,309.9 L641.5,308.9 L642.0,307.9 L642.5,306.7 L643.0,305.5 L643.5,304.2 L644.0,302.8 L644.5,301.4 L645.0,300.0 L645.5,298.5 L646.0,296.8 L646.5,295.1 L647.0,293.2 L647.5,291.3 L648.0,289.3 L648.5,287.3 L649.0,285.2 L649.5,283.2 L650.0,281.1 L650.5,278.9 L651.0,276.8 L651.5,274.5 L652.0,272.3 L652.5,269.9 L653.0,267.6 L653.5,265.2 L654.0,262.8 L654.5,260.4 L655.0,258.0 L655.5,255.6 L656.0,253.1 L656.5,250.6 L657.0,248.0 L657.5,245.4 L658.0,242.8 L658.5,240.2 L659.0,237.5 L659.5,234.8 L660.0,232.0 L660.5,229.2 L661.0,226.2 L661.5,223.2 L662.0,220.2 L662.5,217.1 L663.0,214.1 L663.5,211.0 L664.0,208.0 L664.5,205.0 L665.0,201.9 L665.5,198.8 L666.0,195.7 L666.5,192.8 L667.0,190.0 L667.5,187.3 L668.0,184.7 L668.5,182.1 L669.0,179.5 L669.5,177.0 L670.0,174.6 L670.5,172.2 L671.0,169.9 L671.5,167.6 L672.0,165.4 L672.5,163.2 L673.0,161.1 L673.5,159.1 L674.0,157.0 L674.5,155.0 L675.0,153.2 L675.5,151.5 L676.0,149.9 L676.5,148.6 L677.0,147.4 L677.5,146.2 L678.0,145.1 L678.5,144.3 L679.0,143.6 L679.5,143.1 L680.0,142.6 L680.5,142.1 L681.0,141.8 L681.5,141.7 L682.0,141.8 L682.5,142.0 L683.0,142.3 L683.5,142.8 L684.0,143.3 L684.5,143.8 L685.0,144.5 L685.5,145.3 L686.0,146.4 L686.5,147.6 L687.0,148.9 L687.5,150.3 L688.0,152.0 L688.5,153.9 L689.0,156.0 L689.5,158.2 L690.0,160.4 L690.5,162.4 L691.0,164.3 L691.5,166.3 L692.0,168.2 L692.5,170.1 L693.0,172.0 L693.5,173.9 L694.0,175.8 L694.5,177.7 L695.0,179.6 L695.5,181.5 L696.0,183.4 L696.5,185.4 L697.0,187.3 L697.5,189.2 L698.0,191.2 L698.5,193.1 L699.0,195.1 L699.5,197.1 L700.0,199.1 L700.5,201.1 L701.0,203.1 L701.5,205.1 L702.0,207.1 L702.5,209.0 L703.0,211.0 L703.5,213.0 L704.0,214.9 L704.5,216.9 L705.0,218.9 L705.5,220.9 L706.0,222.8 L706.5,224.8 L707.0,226.7 L707.5,228.6 L708.0,230.5 L708.5,232.4 L709.0,234.2 L709.5,236.1 L710.0,238.0 L710.5,239.8 L711.0,241.7 L711.5,243.5 L712.0,245.3 L712.5,247.0 L713.0,248.7 L713.5,250.4 L714.0,252.0 L714.5,253.6 L715.0,255.1 L715.5,256.6 L716.0,258.1 L716.5,259.5 L717.0,260.9 L717.5,262.3 L718.0,263.7 L718.5,265.1 L719.0,266.4 L719.5,267.7 L720.0,269.0 L720.5,270.3 L721.0,271.5 L721.5,272.8 L722.0,274.0 L722.5,275.2 L723.0,276.4 L723.5,277.6 L724.0,278.8 L724.5,279.9 L725.0,281.0 L725.5,282.1 L726.0,283.2 L726.5,284.2 L727.0,285.2 L727.5,286.3 L728.0,287.3 L728.5,288.3 L729.0,289.2 L729.5,290.2 L730.0,291.2 L730.5,292.1 L731.0,293.0 L731.5,293.9 L732.0,294.8 L732.5,295.6 L733.0,296.4 L733.5,297.2 L734.0,298.0 L734.5,298.8 L735.0,299.5 L735.5,300.3 L736.0,301.0 L736.5,301.8 L737.0,302.5 L737.5,303.2 L738.0,303.9 L738.5,304.6 L739.0,305.2 L739.5,305.9 L740.0,306.5 L740.5,307.1 L741.0,307.6 L741.5,308.2 L742.0,308.6 L742.5,309.1 L743.0,309.5 L743.5,309.9 L744.0,310.2 L744.5,310.6 L745.0,310.9 L745.5,311.3 L746.0,311.6 L746.5,311.9 L747.0,312.2 L747.5,312.5 L748.0,312.7 L748.5,313.0 L749.0,313.3 L749.5,313.5 L750.0,313.8 L750.5,314.0 L751.0,314.2 L751.5,314.5 L752.0,314.7 L752.5,314.9 L753.0,315.1 L753.5,315.3 L754.0,315.5 L754.5,315.7 L755.0,315.9 L755.5,316.1 L756.0,316.3 L756.5,316.5 L757.0,316.7 L757.5,316.8 L758.0,317.0 L758.5,317.2 L759.0,317.4 L759.5,317.5 L760.0,317.7 L760.5,317.8 L761.0,318.0 L761.5,318.1 L762.0,318.3 L762.5,318.4 L763.0,318.5 L763.5,318.7 L764.0,318.8 L764.5,318.9 L765.0,319.0 L765.5,319.1 L766.0,319.2 L766.5,319.3 L767.0,319.4 L767.5,319.5 L768.0,319.6 L768.5,319.7 L769.0,319.8 L769.5,319.9 L770.0,319.9 L770.5,320.0 L771.0,320.1 L771.5,320.2 L772.0,320.3 L772.5,320.3 L773.0,320.4 L773.5,320.5 L774.0,320.5 L774.5,320.6 L775.0,320.6 L775.5,320.7 L776.0,320.7 L776.5,320.8 L777.0,320.8 L777.5,320.8 L778.0,320.9 L778.5,320.9 L779.0,320.9 L779.5,321.0 L780.0,321.0 L780.5,321.0 L781.0,321.1 L781.5,321.1 L782.0,321.1 L782.5,321.2 L783.0,321.2 L783.5,321.2 L784.0,321.2 L784.5,321.3 L785.0,321.3 L785.5,321.3 L786.0,321.4 L786.5,321.4 L787.0,321.4 L787.5,321.4 L788.0,321.4 L788.5,321.5 L789.0,321.5 L789.5,321.5 L790.0,321.5 L790.5,321.5 L791.0,321.5 L791.5,321.6 L792.0,321.6 L792.5,321.6 L793.0,321.6 L793.5,321.6 L794.0,321.6 L794.5,321.6 L795.0,321.6 L795.5,321.6 L796.0,321.6 L796.5,321.6 L797.0,321.6 L797.5,321.6 L798.0,321.6 L798.5,321.6 L799.0,321.6 L799.5,321.6 L800.0,321.6 L800.5,321.6 L801.0,321.6 L801.5,321.6 L802.0,321.6 L802.5,321.6 L803.0,321.6 L803.5,321.6 L804.0,321.6 L804.5,321.6 L805.0,321.6 L805.5,321.6 L806.0,321.6 L806.5,321.6 L807.0,321.6 L807.5,321.6 L808.0,321.6 L808.5,321.6 L809.0,321.6 L809.5,321.6 L810.0,321.6 L810.5,321.6 L811.0,321.6 L811.5,321.6 L812.0,321.6 L812.5,321.6 L813.0,321.6 L813.5,321.6 L814.0,321.6 L814.5,321.6 L815.0,321.7 L815.5,321.7 L816.0,321.7 L816.5,321.7 L817.0,321.7 L817.5,321.7 L818.0,321.7 L818.5,321.7 L819.0,321.7 L819.5,321.7 L820.0,321.7 L820.5,321.7 L821.0,321.7 L821.5,321.7 L822.0,321.7 L822.5,321.7 L823.0,321.7 L823.5,321.7 L824.0,321.7 L824.5,321.7 L825.0,321.7 L825.5,321.7 L826.0,321.7 L826.5,321.7 L827.0,321.7 L827.5,321.7 L828.0,321.7 L828.5,321.7 L829.0,321.7 L829.5,321.7 L830.0,321.7 L830.5,321.7 L831.0,321.7 L831.5,321.7 L832.0,321.7 L832.5,321.7 L833.0,321.7 L833.5,321.7 L834.0,321.7 L834.5,321.7 L835.0,321.7 L835.5,321.7 L836.0,321.7 L836.5,321.7 L837.0,321.7 L837.5,321.7 L838.0,321.7 L838.5,321.7 L839.0,321.7 L839.5,321.7 L840.0,321.7 L840.5,321.7 L841.0,321.7 L841.5,321.7 L842.0,321.7 L842.5,321.7 L843.0,321.7 L843.5,321.7 L844.0,321.7 L844.5,321.7 L845.0,321.7 L845.5,321.7 L846.0,321.7 L846.5,321.7 L847.0,321.7 L847.5,321.7 L848.0,321.7 L848.5,321.7 L849.0,321.7 L849.5,321.7 L850.0,321.7 L850.5,321.7 L851.0,321.7 L851.5,321.7 L852.0,321.7 L852.5,321.7 L853.0,321.7 L853.5,321.7 L854.0,321.7 L854.5,321.7 L855.0,321.7 L855.5,321.7 L856.0,321.7 L856.5,321.7 L857.0,321.7 L857.5,321.7 L858.0,321.7 L858.5,321.7 L859.0,321.7 L859.5,321.7 L860.0,321.7 L860.5,321.7 L861.0,321.7 L861.5,321.7 L862.0,321.7 L862.5,321.7 L863.0,321.7 L863.5,321.7 L864.0,321.7 L864.5,321.7 L865.0,321.7 L865.5,321.7 L866.0,321.7 L866.5,321.7 L867.0,321.7 L867.5,321.7 L868.0,321.7 L868.5,321.7 L869.0,321.7 L869.5,321.7 L870.0,321.7 L870.5,321.7 L871.0,321.7 L871.5,321.7 L872.0,321.7 L872.5,321.7 L873.0,321.7" fill="none" stroke="#86e11f" stroke-width="3.30" stroke-linejoin="round" stroke-linecap="butt"/>
<path d="M599.0,321.7 L599.5,321.7 L600.0,321.7 L600.5,321.7 L601.0,321.7 L601.5,321.7 L602.0,321.7 L602.5,321.7 L603.0,321.7 L603.5,321.7 L604.0,321.7 L604.5,321.7 L605.0,321.7 L605.5,321.7 L606.0,321.7 L606.5,321.7 L607.0,321.7 L607.5,321.7 L608.0,321.7 L608.5,321.7 L609.0,321.7 L609.5,321.7 L610.0,321.6 L610.5,321.6 L611.0,321.6 L611.5,321.6 L612.0,321.6 L612.5,321.6 L613.0,321.6 L613.5,321.6 L614.0,321.6 L614.5,321.6 L615.0,321.6 L615.5,321.6 L616.0,321.6 L616.5,321.6 L617.0,321.6 L617.5,321.6 L618.0,321.6 L618.5,321.5 L619.0,321.5 L619.5,321.5 L620.0,321.5 L620.5,321.5 L621.0,321.5 L621.5,321.5 L622.0,321.4 L622.5,321.4 L623.0,321.4 L623.5,321.4 L624.0,321.4 L624.5,321.3 L625.0,321.3 L625.5,321.3 L626.0,321.3 L626.5,321.2 L627.0,321.2 L627.5,321.2 L628.0,321.1 L628.5,321.1 L629.0,321.1 L629.5,321.0 L630.0,321.0 L630.5,320.9 L631.0,320.9 L631.5,320.8 L632.0,320.6 L632.5,320.5 L633.0,320.3 L633.5,320.2 L634.0,320.0 L634.5,319.7 L635.0,319.5 L635.5,319.3 L636.0,319.0 L636.5,318.8 L637.0,318.5 L637.5,318.3 L638.0,318.0 L638.5,317.7 L639.0,317.4 L639.5,317.1 L640.0,316.7 L640.5,316.3 L641.0,315.9 L641.5,315.5 L642.0,315.0 L642.5,314.5 L643.0,314.0 L643.5,313.5 L644.0,313.0 L644.5,312.4 L645.0,311.9 L645.5,311.3 L646.0,310.7 L646.5,310.0 L647.0,309.2 L647.5,308.5 L648.0,307.6 L648.5,306.7 L649.0,305.8 L649.5,304.9 L650.0,303.9 L650.5,302.9 L651.0,302.0 L651.5,301.0 L652.0,300.0 L652.5,299.0 L653.0,298.0 L653.5,297.0 L654.0,296.0 L654.5,294.9 L655.0,293.8 L655.5,292.8 L656.0,291.6 L656.5,290.5 L657.0,289.4 L657.5,288.2 L658.0,287.0 L658.5,285.8 L659.0,284.6 L659.5,283.3 L660.0,282.0 L660.5,280.7 L661.0,279.4 L661.5,278.1 L662.0,276.7 L662.5,275.3 L663.0,273.9 L663.5,272.5 L664.0,271.0 L664.5,269.5 L665.0,268.0 L665.5,266.4 L666.0,264.8 L666.5,263.0 L667.0,261.3 L667.5,259.5 L668.0,257.7 L668.5,255.8 L669.0,254.0 L669.5,252.2 L670.0,250.5 L670.5,248.8 L671.0,247.2 L671.5,245.6 L672.0,244.0 L672.5,242.5 L673.0,241.0 L673.5,239.5 L674.0,238.0 L674.5,236.5 L675.0,235.0 L675.5,233.6 L676.0,232.2 L676.5,230.8 L677.0,229.5 L677.5,228.3 L678.0,227.1 L678.5,226.0 L679.0,225.0 L679.5,224.0 L680.0,223.0 L680.5,222.0 L681.0,221.1 L681.5,220.1 L682.0,219.3 L682.5,218.6 L683.0,218.0 L683.5,217.5 L684.0,217.1 L684.5,216.7 L685.0,216.3 L685.5,216.0 L686.0,215.8 L686.5,215.8 L687.0,215.9 L687.5,216.1 L688.0,216.4 L688.5,216.8 L689.0,217.2 L689.5,217.6 L690.0,218.0 L690.5,218.5 L691.0,219.0 L691.5,219.6 L692.0,220.3 L692.5,220.9 L693.0,221.6 L693.5,222.3 L694.0,223.0 L694.5,223.6 L695.0,224.3 L695.5,224.9 L696.0,225.6 L696.5,226.2 L697.0,226.9 L697.5,227.6 L698.0,228.3 L698.5,229.0 L699.0,229.8 L699.5,230.6 L700.0,231.4 L700.5,232.3 L701.0,233.2 L701.5,234.1 L702.0,235.0 L702.5,235.9 L703.0,236.8 L703.5,237.7 L704.0,238.5 L704.5,239.3 L705.0,240.1 L705.5,240.9 L706.0,241.7 L706.5,242.4 L707.0,243.2 L707.5,244.0 L708.0,244.8 L708.5,245.6 L709.0,246.4 L709.5,247.2 L710.0,248.1 L710.5,249.1 L711.0,250.0 L711.5,251.1 L712.0,252.1 L712.5,253.2 L713.0,254.3 L713.5,255.4 L714.0,256.5 L714.5,257.6 L715.0,258.8 L715.5,259.9 L716.0,261.0 L716.5,262.1 L717.0,263.2 L717.5,264.4 L718.0,265.5 L718.5,266.7 L719.0,267.8 L719.5,269.0 L720.0,270.1 L720.5,271.3 L721.0,272.4 L721.5,273.6 L722.0,274.7 L722.5,275.8 L723.0,276.9 L723.5,278.0 L724.0,279.0 L724.5,280.0 L725.0,281.0 L725.5,282.0 L726.0,282.9 L726.5,283.9 L727.0,284.8 L727.5,285.7 L728.0,286.6 L728.5,287.5 L729.0,288.3 L729.5,289.2 L730.0,290.0 L730.5,290.8 L731.0,291.6 L731.5,292.4 L732.0,293.2 L732.5,294.0 L733.0,294.8 L733.5,295.6 L734.0,296.3 L734.5,297.1 L735.0,297.8 L735.5,298.5 L736.0,299.2 L736.5,299.8 L737.0,300.5 L737.5,301.1 L738.0,301.8 L738.5,302.4 L739.0,303.1 L739.5,303.7 L740.0,304.3 L740.5,304.9 L741.0,305.5 L741.5,306.1 L742.0,306.7 L742.5,307.2 L743.0,307.8 L743.5,308.3 L744.0,308.7 L744.5,309.2 L745.0,309.6 L745.5,310.0 L746.0,310.4 L746.5,310.7 L747.0,311.1 L747.5,311.4 L748.0,311.7 L748.5,312.1 L749.0,312.4 L749.5,312.7 L750.0,312.9 L750.5,313.2 L751.0,313.5 L751.5,313.8 L752.0,314.0 L752.5,314.3 L753.0,314.5 L753.5,314.7 L754.0,315.0 L754.5,315.2 L755.0,315.4 L755.5,315.6 L756.0,315.8 L756.5,316.0 L757.0,316.2 L757.5,316.4 L758.0,316.6 L758.5,316.8 L759.0,316.9 L759.5,317.1 L760.0,317.3 L760.5,317.5 L761.0,317.6 L761.5,317.8 L762.0,317.9 L762.5,318.1 L763.0,318.2 L763.5,318.4 L764.0,318.5 L764.5,318.6 L765.0,318.8 L765.5,318.9 L766.0,319.0 L766.5,319.1 L767.0,319.2 L767.5,319.3 L768.0,319.4 L768.5,319.5 L769.0,319.6 L769.5,319.7 L770.0,319.8 L770.5,319.8 L771.0,319.9 L771.5,320.0 L772.0,320.1 L772.5,320.2 L773.0,320.2 L773.5,320.3 L774.0,320.4 L774.5,320.5 L775.0,320.5 L775.5,320.6 L776.0,320.6 L776.5,320.7 L777.0,320.7 L777.5,320.8 L778.0,320.8 L778.5,320.9 L779.0,320.9 L779.5,320.9 L780.0,321.0 L780.5,321.0 L781.0,321.0 L781.5,321.1 L782.0,321.1 L782.5,321.1 L783.0,321.1 L783.5,321.2 L784.0,321.2 L784.5,321.2 L785.0,321.2 L785.5,321.3 L786.0,321.3 L786.5,321.3 L787.0,321.3 L787.5,321.4 L788.0,321.4 L788.5,321.4 L789.0,321.4 L789.5,321.4 L790.0,321.5 L790.5,321.5 L791.0,321.5 L791.5,321.5 L792.0,321.5 L792.5,321.5 L793.0,321.5 L793.5,321.6 L794.0,321.6 L794.5,321.6 L795.0,321.6 L795.5,321.6 L796.0,321.6 L796.5,321.6 L797.0,321.6 L797.5,321.6 L798.0,321.6 L798.5,321.6 L799.0,321.6 L799.5,321.6 L800.0,321.6 L800.5,321.6 L801.0,321.6 L801.5,321.6 L802.0,321.6 L802.5,321.6 L803.0,321.6 L803.5,321.6 L804.0,321.6 L804.5,321.6 L805.0,321.6 L805.5,321.6 L806.0,321.6 L806.5,321.6 L807.0,321.6 L807.5,321.6 L808.0,321.6 L808.5,321.6 L809.0,321.6 L809.5,321.6 L810.0,321.6 L810.5,321.6 L811.0,321.6 L811.5,321.6 L812.0,321.6 L812.5,321.6 L813.0,321.6 L813.5,321.6 L814.0,321.6 L814.5,321.6 L815.0,321.6 L815.5,321.6 L816.0,321.6 L816.5,321.7 L817.0,321.7 L817.5,321.7 L818.0,321.7 L818.5,321.7 L819.0,321.7 L819.5,321.7 L820.0,321.7 L820.5,321.7 L821.0,321.7 L821.5,321.7 L822.0,321.7 L822.5,321.7 L823.0,321.7 L823.5,321.7 L824.0,321.7 L824.5,321.7 L825.0,321.7 L825.5,321.7 L826.0,321.7 L826.5,321.7 L827.0,321.7 L827.5,321.7 L828.0,321.7 L828.5,321.7 L829.0,321.7 L829.5,321.7 L830.0,321.7 L830.5,321.7 L831.0,321.7 L831.5,321.7 L832.0,321.7 L832.5,321.7 L833.0,321.7 L833.5,321.7 L834.0,321.7 L834.5,321.7 L835.0,321.7 L835.5,321.7 L836.0,321.7 L836.5,321.7 L837.0,321.7 L837.5,321.7 L838.0,321.7 L838.5,321.7 L839.0,321.7 L839.5,321.7 L840.0,321.7 L840.5,321.7 L841.0,321.7 L841.5,321.7 L842.0,321.7 L842.5,321.7 L843.0,321.7 L843.5,321.7 L844.0,321.7 L844.5,321.7 L845.0,321.7 L845.5,321.7 L846.0,321.7 L846.5,321.7 L847.0,321.7 L847.5,321.7 L848.0,321.7 L848.5,321.7 L849.0,321.7 L849.5,321.7 L850.0,321.7 L850.5,321.7 L851.0,321.7 L851.5,321.7 L852.0,321.7 L852.5,321.7 L853.0,321.7 L853.5,321.7 L854.0,321.7 L854.5,321.7 L855.0,321.7 L855.5,321.7 L856.0,321.7 L856.5,321.7 L857.0,321.7 L857.5,321.7 L858.0,321.7 L858.5,321.7 L859.0,321.7 L859.5,321.7 L860.0,321.7 L860.5,321.7 L861.0,321.7 L861.5,321.7 L862.0,321.7 L862.5,321.7 L863.0,321.7 L863.5,321.7 L864.0,321.7 L864.5,321.7 L865.0,321.7 L865.5,321.7 L866.0,321.7 L866.5,321.7 L867.0,321.7 L867.5,321.7 L868.0,321.7 L868.5,321.7 L869.0,321.7 L869.5,321.7 L870.0,321.7 L870.5,321.7 L871.0,321.7 L871.5,321.7 L872.0,321.7 L872.5,321.7 L873.0,321.7" fill="none" stroke="#c6f53a" stroke-width="3.30" stroke-linejoin="round" stroke-linecap="butt"/>
<path d="M599.0,321.7 L599.5,321.7 L600.0,321.7 L600.5,321.7 L601.0,321.7 L601.5,321.7 L602.0,321.7 L602.5,321.7 L603.0,321.7 L603.5,321.7 L604.0,321.7 L604.5,321.7 L605.0,321.7 L605.5,321.7 L606.0,321.7 L606.5,321.7 L607.0,321.7 L607.5,321.7 L608.0,321.7 L608.5,321.7 L609.0,321.7 L609.5,321.7 L610.0,321.7 L610.5,321.7 L611.0,321.7 L611.5,321.7 L612.0,321.7 L612.5,321.7 L613.0,321.7 L613.5,321.7 L614.0,321.7 L614.5,321.7 L615.0,321.7 L615.5,321.7 L616.0,321.7 L616.5,321.7 L617.0,321.7 L617.5,321.7 L618.0,321.7 L618.5,321.7 L619.0,321.7 L619.5,321.7 L620.0,321.7 L620.5,321.7 L621.0,321.7 L621.5,321.7 L622.0,321.7 L622.5,321.7 L623.0,321.7 L623.5,321.7 L624.0,321.7 L624.5,321.7 L625.0,321.7 L625.5,321.7 L626.0,321.7 L626.5,321.7 L627.0,321.7 L627.5,321.7 L628.0,321.7 L628.5,321.7 L629.0,321.7 L629.5,321.7 L630.0,321.7 L630.5,321.7 L631.0,321.7 L631.5,321.7 L632.0,321.7 L632.5,321.7 L633.0,321.7 L633.5,321.7 L634.0,321.7 L634.5,321.7 L635.0,321.7 L635.5,321.7 L636.0,321.7 L636.5,321.7 L637.0,321.7 L637.5,321.7 L638.0,321.7 L638.5,321.7 L639.0,321.7 L639.5,321.7 L640.0,321.7 L640.5,321.7 L641.0,321.7 L641.5,321.7 L642.0,321.7 L642.5,321.7 L643.0,321.7 L643.5,321.7 L644.0,321.7 L644.5,321.7 L645.0,321.7 L645.5,321.7 L646.0,321.7 L646.5,321.7 L647.0,321.7 L647.5,321.7 L648.0,321.7 L648.5,321.7 L649.0,321.7 L649.5,321.7 L650.0,321.7 L650.5,321.7 L651.0,321.7 L651.5,321.7 L652.0,321.7 L652.5,321.7 L653.0,321.7 L653.5,321.7 L654.0,321.7 L654.5,321.7 L655.0,321.7 L655.5,321.7 L656.0,321.7 L656.5,321.7 L657.0,321.7 L657.5,321.7 L658.0,321.7 L658.5,321.7 L659.0,321.7 L659.5,321.7 L660.0,321.7 L660.5,321.7 L661.0,321.7 L661.5,321.7 L662.0,321.7 L662.5,321.7 L663.0,321.7 L663.5,321.6 L664.0,321.6 L664.5,321.6 L665.0,321.6 L665.5,321.6 L666.0,321.6 L666.5,321.6 L667.0,321.6 L667.5,321.6 L668.0,321.6 L668.5,321.6 L669.0,321.5 L669.5,321.5 L670.0,321.5 L670.5,321.5 L671.0,321.5 L671.5,321.4 L672.0,321.4 L672.5,321.4 L673.0,321.4 L673.5,321.3 L674.0,321.3 L674.5,321.3 L675.0,321.2 L675.5,321.2 L676.0,321.2 L676.5,321.1 L677.0,321.1 L677.5,321.0 L678.0,321.0 L678.5,320.9 L679.0,320.8 L679.5,320.8 L680.0,320.7 L680.5,320.6 L681.0,320.5 L681.5,320.5 L682.0,320.4 L682.5,320.3 L683.0,320.2 L683.5,320.1 L684.0,320.0 L684.5,319.9 L685.0,319.8 L685.5,319.6 L686.0,319.5 L686.5,319.4 L687.0,319.2 L687.5,319.1 L688.0,319.0 L688.5,318.8 L689.0,318.6 L689.5,318.5 L690.0,318.3 L690.5,318.2 L691.0,318.0 L691.5,317.8 L692.0,317.6 L692.5,317.4 L693.0,317.2 L693.5,317.0 L694.0,316.9 L694.5,316.7 L695.0,316.5 L695.5,316.3 L696.0,316.0 L696.5,315.8 L697.0,315.6 L697.5,315.4 L698.0,315.2 L698.5,315.0 L699.0,314.8 L699.5,314.6 L700.0,314.4 L700.5,314.2 L701.0,314.0 L701.5,313.8 L702.0,313.6 L702.5,313.5 L703.0,313.3 L703.5,313.1 L704.0,312.9 L704.5,312.8 L705.0,312.6 L705.5,312.5 L706.0,312.4 L706.5,312.2 L707.0,312.1 L707.5,312.0 L708.0,311.9 L708.5,311.8 L709.0,311.7 L709.5,311.7 L710.0,311.6 L710.5,311.6 L711.0,311.6 L711.5,311.5 L712.0,311.5 L712.5,311.5 L713.0,311.5 L713.5,311.5 L714.0,311.5 L714.5,311.6 L715.0,311.6 L715.5,311.6 L716.0,311.7 L716.5,311.7 L717.0,311.8 L717.5,311.8 L718.0,311.9 L718.5,312.0 L719.0,312.1 L719.5,312.1 L720.0,312.2 L720.5,312.3 L721.0,312.4 L721.5,312.5 L722.0,312.6 L722.5,312.7 L723.0,312.9 L723.5,313.0 L724.0,313.1 L724.5,313.2 L725.0,313.4 L725.5,313.5 L726.0,313.6 L726.5,313.8 L727.0,313.9 L727.5,314.1 L728.0,314.2 L728.5,314.4 L729.0,314.5 L729.5,314.7 L730.0,314.8 L730.5,315.0 L731.0,315.1 L731.5,315.3 L732.0,315.4 L732.5,315.6 L733.0,315.7 L733.5,315.9 L734.0,316.0 L734.5,316.2 L735.0,316.3 L735.5,316.5 L736.0,316.6 L736.5,316.8 L737.0,316.9 L737.5,317.1 L738.0,317.2 L738.5,317.4 L739.0,317.5 L739.5,317.7 L740.0,317.8 L740.5,317.9 L741.0,318.1 L741.5,318.2 L742.0,318.3 L742.5,318.4 L743.0,318.6 L743.5,318.7 L744.0,318.8 L744.5,318.9 L745.0,319.0 L745.5,319.1 L746.0,319.2 L746.5,319.3 L747.0,319.4 L747.5,319.5 L748.0,319.6 L748.5,319.7 L749.0,319.8 L749.5,319.9 L750.0,320.0 L750.5,320.1 L751.0,320.1 L751.5,320.2 L752.0,320.3 L752.5,320.3 L753.0,320.4 L753.5,320.5 L754.0,320.5 L754.5,320.6 L755.0,320.7 L755.5,320.7 L756.0,320.8 L756.5,320.8 L757.0,320.9 L757.5,320.9 L758.0,321.0 L758.5,321.0 L759.0,321.0 L759.5,321.1 L760.0,321.1 L760.5,321.1 L761.0,321.2 L761.5,321.2 L762.0,321.2 L762.5,321.3 L763.0,321.3 L763.5,321.3 L764.0,321.3 L764.5,321.4 L765.0,321.4 L765.5,321.4 L766.0,321.4 L766.5,321.4 L767.0,321.5 L767.5,321.5 L768.0,321.5 L768.5,321.5 L769.0,321.5 L769.5,321.5 L770.0,321.5 L770.5,321.6 L771.0,321.6 L771.5,321.6 L772.0,321.6 L772.5,321.6 L773.0,321.6 L773.5,321.6 L774.0,321.6 L774.5,321.6 L775.0,321.6 L775.5,321.6 L776.0,321.6 L776.5,321.6 L777.0,321.6 L777.5,321.6 L778.0,321.7 L778.5,321.7 L779.0,321.7 L779.5,321.7 L780.0,321.7 L780.5,321.7 L781.0,321.7 L781.5,321.7 L782.0,321.7 L782.5,321.7 L783.0,321.7 L783.5,321.7 L784.0,321.7 L784.5,321.7 L785.0,321.7 L785.5,321.7 L786.0,321.7 L786.5,321.7 L787.0,321.7 L787.5,321.7 L788.0,321.7 L788.5,321.7 L789.0,321.7 L789.5,321.7 L790.0,321.7 L790.5,321.7 L791.0,321.7 L791.5,321.7 L792.0,321.7 L792.5,321.7 L793.0,321.7 L793.5,321.7 L794.0,321.7 L794.5,321.7 L795.0,321.7 L795.5,321.7 L796.0,321.7 L796.5,321.7 L797.0,321.7 L797.5,321.7 L798.0,321.7 L798.5,321.7 L799.0,321.7 L799.5,321.7 L800.0,321.7 L800.5,321.7 L801.0,321.7 L801.5,321.7 L802.0,321.7 L802.5,321.7 L803.0,321.7 L803.5,321.7 L804.0,321.7 L804.5,321.7 L805.0,321.7 L805.5,321.7 L806.0,321.7 L806.5,321.7 L807.0,321.7 L807.5,321.7 L808.0,321.7 L808.5,321.7 L809.0,321.7 L809.5,321.7 L810.0,321.7 L810.5,321.7 L811.0,321.7 L811.5,321.7 L812.0,321.7 L812.5,321.7 L813.0,321.7 L813.5,321.7 L814.0,321.7 L814.5,321.7 L815.0,321.7 L815.5,321.7 L816.0,321.7 L816.5,321.7 L817.0,321.7 L817.5,321.7 L818.0,321.7 L818.5,321.7 L819.0,321.7 L819.5,321.7 L820.0,321.7 L820.5,321.7 L821.0,321.7 L821.5,321.7 L822.0,321.7 L822.5,321.7 L823.0,321.7 L823.5,321.7 L824.0,321.7 L824.5,321.7 L825.0,321.7 L825.5,321.7 L826.0,321.7 L826.5,321.7 L827.0,321.7 L827.5,321.7 L828.0,321.7 L828.5,321.7 L829.0,321.7 L829.5,321.7 L830.0,321.7 L830.5,321.7 L831.0,321.7 L831.5,321.7 L832.0,321.7 L832.5,321.7 L833.0,321.7 L833.5,321.7 L834.0,321.7 L834.5,321.7 L835.0,321.7 L835.5,321.7 L836.0,321.7 L836.5,321.7 L837.0,321.7 L837.5,321.7 L838.0,321.7 L838.5,321.7 L839.0,321.7 L839.5,321.7 L840.0,321.7 L840.5,321.7 L841.0,321.7 L841.5,321.7 L842.0,321.7 L842.5,321.7 L843.0,321.7 L843.5,321.7 L844.0,321.7 L844.5,321.7 L845.0,321.7 L845.5,321.7 L846.0,321.7 L846.5,321.7 L847.0,321.7 L847.5,321.7 L848.0,321.7 L848.5,321.7 L849.0,321.7 L849.5,321.7 L850.0,321.7 L850.5,321.7 L851.0,321.7 L851.5,321.7 L852.0,321.7 L852.5,321.7 L853.0,321.7 L853.5,321.7 L854.0,321.7 L854.5,321.7 L855.0,321.7 L855.5,321.7 L856.0,321.7 L856.5,321.7 L857.0,321.7 L857.5,321.7 L858.0,321.7 L858.5,321.7 L859.0,321.7 L859.5,321.7 L860.0,321.7 L860.5,321.7 L861.0,321.7 L861.5,321.7 L862.0,321.7 L862.5,321.7 L863.0,321.7 L863.5,321.7 L864.0,321.7 L864.5,321.7 L865.0,321.7 L865.5,321.7 L866.0,321.7 L866.5,321.7 L867.0,321.7 L867.5,321.7 L868.0,321.7 L868.5,321.7 L869.0,321.7 L869.5,321.7 L870.0,321.7 L870.5,321.7 L871.0,321.7 L871.5,321.7 L872.0,321.7 L872.5,321.7 L873.0,321.7" fill="none" stroke="#fb6d14" stroke-width="3.30" stroke-linejoin="round" stroke-linecap="butt"/>
</g>
<g stroke="#3a3a3a" stroke-width="1" fill="none" shape-rendering="auto">
<path d="M60.4,56.9 V327.1"/>
<path d="M54.9,322.6 H416.9"/>
<path d="M60.4,322.6 v4.5"/>
<path d="M119.7,322.6 v4.5"/>
<path d="M179.1,322.6 v4.5"/>
<path d="M238.4,322.6 v4.5"/>
<path d="M297.7,322.6 v4.5"/>
<path d="M357.1,322.6 v4.5"/>
<path d="M416.4,322.6 v4.5"/>
<path d="M54.9,322.6 h5.5"/>
<path d="M54.9,256.3 h5.5"/>
<path d="M54.9,190.0 h5.5"/>
<path d="M54.9,123.7 h5.5"/>
<path d="M54.9,57.4 h5.5"/>
</g>
<g font-family="'Liberation Sans', Arial, sans-serif" font-weight="700" font-size="11.1" fill="#1e1e1e">
<text x="60.4" y="340.0" text-anchor="middle">300</text>
<text x="119.7" y="340.0" text-anchor="middle">350</text>
<text x="179.1" y="340.0" text-anchor="middle">400</text>
<text x="238.4" y="340.0" text-anchor="middle">450</text>
<text x="297.7" y="340.0" text-anchor="middle">500</text>
<text x="357.1" y="340.0" text-anchor="middle">550</text>
<text x="416.4" y="340.0" text-anchor="middle">600</text>
<text x="51.6" y="326.5" text-anchor="end">0.0</text>
<text x="51.6" y="260.2" text-anchor="end">0.1</text>
<text x="51.6" y="193.9" text-anchor="end">0.2</text>
<text x="51.6" y="127.6" text-anchor="end">0.3</text>
<text x="51.6" y="61.3" text-anchor="end">0.4</text>
</g>
<g stroke="#3a3a3a" stroke-width="1" fill="none" shape-rendering="auto">
<path d="M517.2,56.9 V327.1"/>
<path d="M511.7,322.6 H873.9"/>
<path d="M517.2,322.6 v4.5"/>
<path d="M588.4,322.6 v4.5"/>
<path d="M659.7,322.6 v4.5"/>
<path d="M730.9,322.6 v4.5"/>
<path d="M802.2,322.6 v4.5"/>
<path d="M873.4,322.6 v4.5"/>
<path d="M511.7,322.6 h5.5"/>
<path d="M511.7,289.5 h5.5"/>
<path d="M511.7,256.3 h5.5"/>
<path d="M511.7,223.2 h5.5"/>
<path d="M511.7,190.0 h5.5"/>
<path d="M511.7,156.8 h5.5"/>
<path d="M511.7,123.7 h5.5"/>
<path d="M511.7,90.5 h5.5"/>
<path d="M511.7,57.4 h5.5"/>
</g>
<g font-family="'Liberation Sans', Arial, sans-serif" font-weight="700" font-size="11.1" fill="#1e1e1e">
<text x="517.2" y="340.0" text-anchor="middle">300</text>
<text x="588.4" y="340.0" text-anchor="middle">400</text>
<text x="659.7" y="340.0" text-anchor="middle">500</text>
<text x="730.9" y="340.0" text-anchor="middle">600</text>
<text x="802.2" y="340.0" text-anchor="middle">700</text>
<text x="873.4" y="340.0" text-anchor="middle">800</text>
<text x="508.4" y="326.5" text-anchor="end">0</text>
<text x="508.4" y="293.4" text-anchor="end">100</text>
<text x="508.4" y="260.2" text-anchor="end">200</text>
<text x="508.4" y="227.1" text-anchor="end">300</text>
<text x="508.4" y="193.9" text-anchor="end">400</text>
<text x="508.4" y="160.8" text-anchor="end">500</text>
<text x="508.4" y="127.6" text-anchor="end">600</text>
<text x="508.4" y="94.4" text-anchor="end">700</text>
<text x="508.4" y="61.3" text-anchor="end">800</text>
</g>
<g font-family="'Liberation Sans', sans-serif" font-weight="700" font-size="13.6" fill="#1e1e1e">
<text x="238.4" y="362.6" text-anchor="middle" textLength="110.4" lengthAdjust="spacingAndGlyphs">Wavelength (nm)</text>
<text x="695.4" y="362.6" text-anchor="middle" textLength="110.4" lengthAdjust="spacingAndGlyphs">Wavelength (nm)</text>
<text transform="translate(13.6,198.8) rotate(-90)" text-anchor="middle" textLength="73.6" lengthAdjust="spacingAndGlyphs">Absorption</text>
<text transform="translate(468.3,198.5) rotate(-90)" text-anchor="middle" textLength="94.2" lengthAdjust="spacingAndGlyphs">Intensity (a.u.)</text>
</g>
<g font-family="'Liberation Sans', sans-serif" font-size="21.6" fill="#1c1c1c">
<text x="10.6" y="29.2">(a)</text>
<text x="450.6" y="29.2">(b)</text>
<text x="879.0" y="29.2">(c)</text>
</g>
<g stroke-width="3.2" stroke-linecap="round" fill="none">
<path d="M339.8,65.7 H370.2" stroke="#2bd3a5"/>
<path d="M339.8,82.5 H370.2" stroke="#86e11f"/>
<path d="M339.8,99.4 H370.2" stroke="#c6f53a"/>
<path d="M339.8,116.7 H370.2" stroke="#fb6d14"/>
</g>
<g font-family="'Liberation Sans', sans-serif" font-size="13" fill="#1c1c1c">
<text x="374.6" y="70.5">Ether</text>
<text x="374.6" y="87.3">DCM</text>
<text x="374.6" y="104.2">ACN</text>
<text x="374.6" y="121.5">MeOH</text>
</g>
<g stroke-width="3.2" stroke-linecap="round" fill="none">
<path d="M797.5,65.5 H827.9" stroke="#2bd3a5"/>
<path d="M797.5,82.3 H827.9" stroke="#86e11f"/>
<path d="M797.5,99.4 H827.9" stroke="#c6f53a"/>
<path d="M797.5,117.0 H827.9" stroke="#fb6d14"/>
</g>
<g font-family="'Liberation Sans', sans-serif" font-size="13" fill="#1c1c1c">
<text x="832.2" y="70.3">Ether</text>
<text x="832.2" y="87.1">DCM</text>
<text x="832.2" y="104.2">ACN</text>
<text x="832.2" y="121.8">MeOH</text>
</g>
<path d="M957.4,65.9 L955.1,47.5 M955.1,47.5 L971.2,35.4 M971.2,35.4 L989.5,42.5 M989.5,42.5 L991.4,61.3 M991.4,61.3 L975.8,73.9 M975.8,73.9 L957.4,65.9 M960.0,63.0 L958.3,49.7 M972.7,39.1 L985.9,44.2 M987.4,60.8 L976.2,69.9 M957.4,65.9 L948.2,72.8 M934.6,74.0 L924.2,69.3 M943.0,84.9 L944.1,96.6 M989.5,42.5 L1005.3,31.1 M1005.3,31.1 L1006.7,11.7 M1006.7,11.7 L1023.6,5.4 M1023.6,5.4 L1035.0,21.4 M1008.3,29.0 L1009.3,14.2 M1022.9,9.3 L1031.1,20.8 M1005.3,31.1 L1018.5,35.7 M1035.0,21.4 L1027.8,32.2 M1031.9,53.9 L1026.8,43.2 M1035.0,21.4 L1053.3,23.5 M1053.3,23.5 L1061.0,41.7 M1061.0,41.7 L1051.3,57.0 M1051.3,57.0 L1031.9,53.9 M1051.7,27.2 L1057.3,40.3 M1049.0,53.7 L1035.1,51.5 M1061.0,41.7 L1081.9,44.2 M1081.9,44.2 L1089.7,61.2 M1081.9,44.2 L1088.5,34.1 M1084.8,44.9 L1091.3,35.0" fill="none" stroke="#2b2b2b" stroke-width="1.05" stroke-linecap="round"/>
<g font-family="'Liberation Sans', sans-serif" font-weight="700" fill="#1c1c1c" text-anchor="middle">
<text x="942.1" y="81.8" font-size="12.2">N</text>
<text x="1024.1" y="41.7" font-size="11.2">N</text>
<text x="1092.6" y="32.2" font-size="12">O</text>
<text x="1011.6" y="97" font-size="11.4">17</text>
</g>
<g clip-path="url(#photo)">
<g filter="url(#b2)">
<rect x="890" y="100" width="70" height="245" fill="url(#gE)"/>
<rect x="959.6" y="100" width="65" height="245" fill="url(#gD)"/>
<path d="M1023.8,100 L1025.2,345 L1090,345 L1090,100 Z" fill="url(#gA)"/>
<rect x="1089.4" y="100" width="70" height="245" fill="url(#gM)"/>
<path d="M957.4,140 L956.6,345 L959.6,345 L960,140 Z" fill="url(#gW)"/>
<path d="M1022.4,100 L1023.6,345 L1025.4,345 L1024.4,100 Z" fill="#5aa80c" opacity="0.9"/>
<rect x="1083.8" y="100" width="5.6" height="245" fill="#8aa80c" opacity="0.92"/>
<rect x="1148.2" y="100" width="6" height="245" fill="#a0301a"/>
</g>
<clipPath id="cv1"><rect x="896.2" y="100" width="63.6" height="250"/></clipPath>
<g clip-path="url(#cv1)">
<path d="M896.3,100.6 V114.0 C896.3,128.0 900.7,133.4 912.0,133.4 H944.5 C955.8,133.4 960.2,128.0 960.2,114.0 V100.6 Z" fill="#15996c" filter="url(#b1)"/>
<path d="M892.7,116.0 V119.0 C892.7,132.0 897.4,137.0 909.5,137.0 H947.0 C959.1,137.0 963.8,132.0 963.8,119.0 V116.0" fill="none" stroke="#a6f5e6" stroke-width="2.6" stroke-linecap="round" filter="url(#b3)"/>
<path d="M898.7,100.6 V114.0 C898.7,126.2 902.9,131.0 913.7,131.0 H942.8 C953.6,131.0 957.8,126.2 957.8,114.0 V100.6 Z" fill="#04160f" filter="url(#b3)"/>
<rect x="897" y="104" width="62" height="5.2" fill="#0a3f2d" filter="url(#b3)"/>
</g>
<clipPath id="cv2"><rect x="959.8" y="100" width="64.0" height="250"/></clipPath>
<g clip-path="url(#cv2)">
<path d="M954.5,105.0 V113.0 C954.5,126.8 958.8,132.1 969.8,132.1 H1008.6 C1019.6,132.1 1023.9,126.8 1023.9,113.0 V105.0 Z" fill="#a6e61c" filter="url(#b1)"/>
<path d="M959.6,105.0 V113.0 C959.6,123.1 963.4,127.0 973.3,127.0 H1005.1 C1015.0,127.0 1018.8,123.1 1018.8,113.0 V105.0 Z" fill="#86cc14" filter="url(#b1)"/>
<path d="M957.0,115.0 V118.0 C957.0,126.4 961.1,129.6 971.5,129.6 H1006.9 C1017.3,129.6 1021.4,126.4 1021.4,118.0 V115.0" fill="none" stroke="#dcf84a" stroke-width="5.6" stroke-linecap="round" filter="url(#b3)"/>
<path d="M962.0,105.0 V113.0 C962.0,121.4 965.6,124.6 975.0,124.6 H1003.4 C1012.8,124.6 1016.4,121.4 1016.4,113.0 V105.0 Z" fill="#0b1a04" filter="url(#b3)"/>
<rect x="959" y="104" width="66" height="6.6" fill="#5aa81c" filter="url(#b3)"/>
</g>
<clipPath id="cv3"><rect x="1023.8" y="100" width="65.6" height="250"/></clipPath>
<g clip-path="url(#cv3)">
<path d="M1020.3,100.6 V113.0 C1020.3,129.1 1024.8,135.3 1036.5,135.3 H1070.1 C1081.8,135.3 1086.3,129.1 1086.3,113.0 V100.6 Z" fill="#cbe21e" filter="url(#b1)"/>
<path d="M1025.2,100.6 V113.0 C1025.2,125.5 1029.3,130.4 1039.9,130.4 H1066.7 C1077.3,130.4 1081.4,125.5 1081.4,113.0 V100.6 Z" fill="#a8c414" filter="url(#b1)"/>
<path d="M1022.8,115.0 V118.0 C1022.8,128.7 1027.1,132.8 1038.2,132.8 H1068.4 C1079.5,132.8 1083.8,128.7 1083.8,118.0 V115.0" fill="none" stroke="#e6f046" stroke-width="5.0" stroke-linecap="round" filter="url(#b3)"/>
<path d="M1027.6,100.6 V113.0 C1027.6,123.8 1031.5,128.0 1041.6,128.0 H1065.0 C1075.1,128.0 1079.0,123.8 1079.0,113.0 V100.6 Z" fill="#0a0e03" filter="url(#b3)"/>
</g>
<clipPath id="cv4"><rect x="1089.4" y="100" width="64.4" height="250"/></clipPath>
<g clip-path="url(#cv4)">
<path d="M1084.7,100.6 V112.0 C1084.7,128.2 1089.2,134.5 1101.0,134.5 H1136.8 C1148.5,134.5 1153.1,128.2 1153.1,112.0 V100.6 Z" fill="#f47a14" filter="url(#b1)"/>
<path d="M1089.8,100.6 V112.0 C1089.8,124.5 1093.9,129.4 1104.5,129.4 H1133.3 C1143.9,129.4 1148.0,124.5 1148.0,112.0 V100.6 Z" fill="#a8400a" filter="url(#b1)"/>
<path d="M1087.2,114.0 V117.0 C1087.2,127.8 1091.5,132.0 1102.7,132.0 H1135.1 C1146.3,132.0 1150.6,127.8 1150.6,117.0 V114.0" fill="none" stroke="#ffa030" stroke-width="5.4" stroke-linecap="round" filter="url(#b3)"/>
<path d="M1092.2,100.6 V112.0 C1092.2,122.8 1096.1,127.0 1106.2,127.0 H1131.6 C1141.7,127.0 1145.6,122.8 1145.6,112.0 V100.6 Z" fill="#120403" filter="url(#b3)"/>
<path d="M1102,129.6 H1136" stroke="#b05a8c" stroke-width="1.6" opacity="0.55" filter="url(#b3)"/>
</g>
</g>
<path d="M1023.4,104 H1156 V108.6 H1023.4 Z" fill="#ffffff"/>
<g font-family="'Liberation Sans', sans-serif" font-weight="700" font-size="18.6" fill="#ffffff" text-anchor="middle">
<text x="930.4" y="166.6">Ether</text>
<text x="990.2" y="166.6">DCM</text>
<text x="1053.5" y="166.6">ACN</text>
<text x="1119.3" y="166.6">MeOH</text>
</g>
</svg>
</body></html>
